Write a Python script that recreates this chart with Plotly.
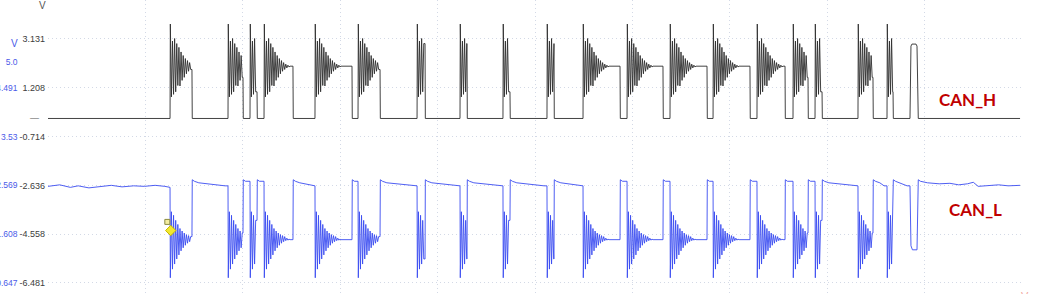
import plotly.graph_objects as go

# ---------------- data ----------------
# time in microseconds (10 us / division, 10 divisions)
rise_us = [12.53, 18.48, 20.74, 22.18, 27.41, 31.83, 37.89, 42.30, 46.71, 51.23,
           54.93, 59.45, 63.86, 68.28, 72.79, 76.49, 78.75, 83.16, 86.14, 88.50]
fall_us = [14.78, 20.02, 21.46, 25.15, 31.21, 34.09, 38.71, 43.02, 47.43, 51.95,
           58.73, 63.14, 67.66, 72.07, 75.67, 78.03, 79.47, 84.70, 86.76, 89.32]
has_ringing = [1] * 19 + [0]          # last pulse is the ACK slot (no ringing)

# CAN_H (black scale, V)
can_h_recessive = 0.0
can_h_dominant = 2.06
can_h_ack = 2.93
can_h_ring = [3.72, 0.85, 3.05, 0.95, 3.15, 1.05, 2.95, 1.30, 2.80, 1.28, 2.62,
              1.50, 2.48, 1.62, 2.36, 1.76, 2.28, 1.86, 2.20, 1.93, 2.14, 1.99,
              2.10, 2.03]

# CAN_L (blue scale, V)
can_l_recessive = 2.56
can_l_after_bump = 2.68
can_l_after_settle = 2.62
can_l_dominant = 1.50
can_l_ack = 1.30
can_l_ring = [0.75, 2.05, 0.92, 1.98, 1.02, 1.88, 1.12, 1.80, 1.20, 1.72, 1.28,
              1.67, 1.34, 1.63, 1.39, 1.60, 1.43, 1.58, 1.46, 1.56, 1.48, 1.53,
              1.49, 1.51]
can_l_lead_t = [0.0, 1.2, 2.3, 3.1, 4.2, 5.4, 6.5, 7.6, 8.8, 9.9, 11.0, 12.0, 12.45]
can_l_lead_v = [2.55, 2.58, 2.53, 2.56, 2.52, 2.55, 2.57, 2.54, 2.56, 2.55, 2.57, 2.55, 2.53]
can_l_tail_t = [90.3, 91.5, 92.6, 93.5, 94.4, 95.0, 95.5, 96.6, 97.6, 98.6, 99.8]
can_l_tail_v = [2.62, 2.60, 2.61, 2.58, 2.60, 2.63, 2.55, 2.57, 2.58, 2.56, 2.57]

# trigger marker (blue scale)
trigger_t = [12.6]
trigger_v = [1.68]
flag_t = [12.25]
flag_v = [1.85]

# axis tick labels
black_ticks = [3.131, 1.208, -0.714, -2.636, -4.558, -6.481]
black_text = ["3.131", "1.208", "-0.714", "-2.636", "-4.558", "-6.481"]
blue_ticks = [5.0, 4.491, 3.53, 2.569, 1.608, 0.647]
blue_text = ["5.0", "4.491", "3.53", "2.569", "1.608", "0.647"]

t_end = 99.8
ring_step = 0.11
edge = 0.03

# ---------------- build waveforms ----------------
hx, hy = [0.0], [can_h_recessive]
for r, f, ring in zip(rise_us, fall_us, has_ringing):
    hx.append(r); hy.append(can_h_recessive)
    if ring:
        last = can_h_dominant
        for k, v in enumerate(can_h_ring):
            t = r + edge + k * ring_step
            if t >= f - edge:
                break
            hx.append(t); hy.append(v); last = v
        if hx[-1] < f - 0.3:
            hx.append(hx[-1] + ring_step); hy.append(can_h_dominant)
            last = can_h_dominant
        hx.append(f); hy.append(last)
    else:
        hx += [r + 0.1, r + 0.2, f - 0.2, f - 0.1]
        hy += [can_h_ack - 0.08, can_h_ack, can_h_ack, can_h_ack - 0.08]
    hx.append(f + edge); hy.append(can_h_recessive)
hx.append(t_end); hy.append(can_h_recessive)

lx, ly = list(can_l_lead_t), list(can_l_lead_v)
for i, (r, f, ring) in enumerate(zip(rise_us, fall_us, has_ringing)):
    if i > 0:
        gap = r - fall_us[i - 1]
        if gap > 1.0:
            lx.append(fall_us[i - 1] + 0.7); ly.append(can_l_after_settle)
            lx.append(r - 0.3); ly.append(can_l_recessive)
    lx.append(r); ly.append(ly[-1])
    if ring:
        last = can_l_dominant
        for k, v in enumerate(can_l_ring):
            t = r + edge + k * ring_step
            if t >= f - edge:
                break
            lx.append(t); ly.append(v); last = v
        if lx[-1] < f - 0.3:
            lx.append(lx[-1] + ring_step); ly.append(can_l_dominant)
            last = can_l_dominant
        lx.append(f); ly.append(last)
    else:
        lx += [r + 0.1, r + 0.25, f - 0.1]
        ly += [can_l_ack + 0.08, can_l_ack, can_l_ack]
    lx.append(f + edge); ly.append(can_l_after_bump)
    lx.append(f + 0.25); ly.append(can_l_after_settle + 0.03)
lx += can_l_tail_t
ly += can_l_tail_v

# ---------------- figure ----------------
fig = go.Figure()
fig.add_trace(go.Scatter(x=hx, y=hy, mode="lines", yaxis="y",
                         line=dict(color="#2e2e2e", width=0.9), name="CAN_H",
                         hoverinfo="skip"))
fig.add_trace(go.Scatter(x=lx, y=ly, mode="lines", yaxis="y2",
                         line=dict(color="#3a4cf0", width=0.9), name="CAN_L",
                         hoverinfo="skip"))
fig.add_trace(go.Scatter(x=flag_t, y=flag_v, mode="markers", yaxis="y2",
                         marker=dict(symbol="square", size=5, color="#f4eea0",
                                     line=dict(color="#8a8a40", width=1)),
                         hoverinfo="skip"))
fig.add_trace(go.Scatter(x=trigger_t, y=trigger_v, mode="markers", yaxis="y2",
                         marker=dict(symbol="diamond", size=8, color="#f2e830",
                                     line=dict(color="#c8b800", width=1)),
                         hoverinfo="skip"))

grid_col = "#d3d9e6"
grid_dash = "1px,3px"
tick_font = dict(family="Liberation Sans, Arial, sans-serif", size=9)
blue_font = dict(family="Liberation Sans, Arial, sans-serif", size=8.5)

fig.update_layout(
    width=1050, height=294,
    margin=dict(l=0, r=0, t=0, b=0, pad=0),
    paper_bgcolor="white", plot_bgcolor="white",
    showlegend=False,
    xaxis=dict(domain=[48 / 1050, 1022 / 1050], range=[0, 100],
               showticklabels=False, ticks="", showline=False, zeroline=False,
               showgrid=True, tick0=0, dtick=10, gridcolor=grid_col,
               griddash=grid_dash, gridwidth=1, automargin=False),
    yaxis=dict(range=[-6.915, 4.667], tickvals=black_ticks, ticktext=black_text,
               ticks="", ticklabelstandoff=2, showline=False, zeroline=False,
               showgrid=True, gridcolor=grid_col, griddash=grid_dash, gridwidth=1,
               tickfont=dict(color="#3c3c3c", **tick_font), automargin=False),
    yaxis2=dict(range=[0.430, 6.220], overlaying="y", anchor="free",
                position=19.5 / 1050, side="left", tickvals=blue_ticks,
                ticktext=blue_text, ticks="", ticklabelstandoff=2,
                showline=False, zeroline=False, showgrid=False,
                tickfont=dict(color="#4a5ae8", **blue_font), automargin=False),
)

anns = [
    dict(text="V", xref="paper", yref="paper", x=42 / 1050, y=1 - 5 / 294,
         xanchor="center", yanchor="middle", showarrow=False,
         font=dict(color="#555555", size=10, family="Liberation Sans, Arial")),
    dict(text="V", xref="paper", yref="paper", x=14 / 1050, y=1 - 44 / 294,
         xanchor="center", yanchor="middle", showarrow=False,
         font=dict(color="#4a5ae8", size=10, family="Liberation Sans, Arial")),
    dict(text="\u2014", xref="paper", yref="y", x=34 / 1050, y=can_h_recessive,
         xanchor="center", yanchor="middle", showarrow=False,
         font=dict(color="#555555", size=9, family="Liberation Sans, Arial")),
    dict(text="<b>CAN_H</b>", xref="paper", yref="paper", x=967 / 1050,
         y=1 - 100 / 294, xanchor="center", yanchor="middle", showarrow=False,
         font=dict(color="#c00000", size=17, family="Lato, Liberation Sans")),
    dict(text="<b>CAN_L</b>", xref="paper", yref="paper", x=975 / 1050,
         y=1 - 209 / 294, xanchor="center", yanchor="middle", showarrow=False,
         font=dict(color="#c00000", size=17, family="Lato, Liberation Sans")),
    dict(text="V", xref="paper", yref="paper", x=1025 / 1050, y=1 - 288 / 294,
         xanchor="center", yanchor="top", showarrow=False,
         font=dict(color="#f2a8a0", size=11, family="Liberation Sans, Arial")),
]
fig.update_layout(annotations=anns)

fig.write_html("out.html")
